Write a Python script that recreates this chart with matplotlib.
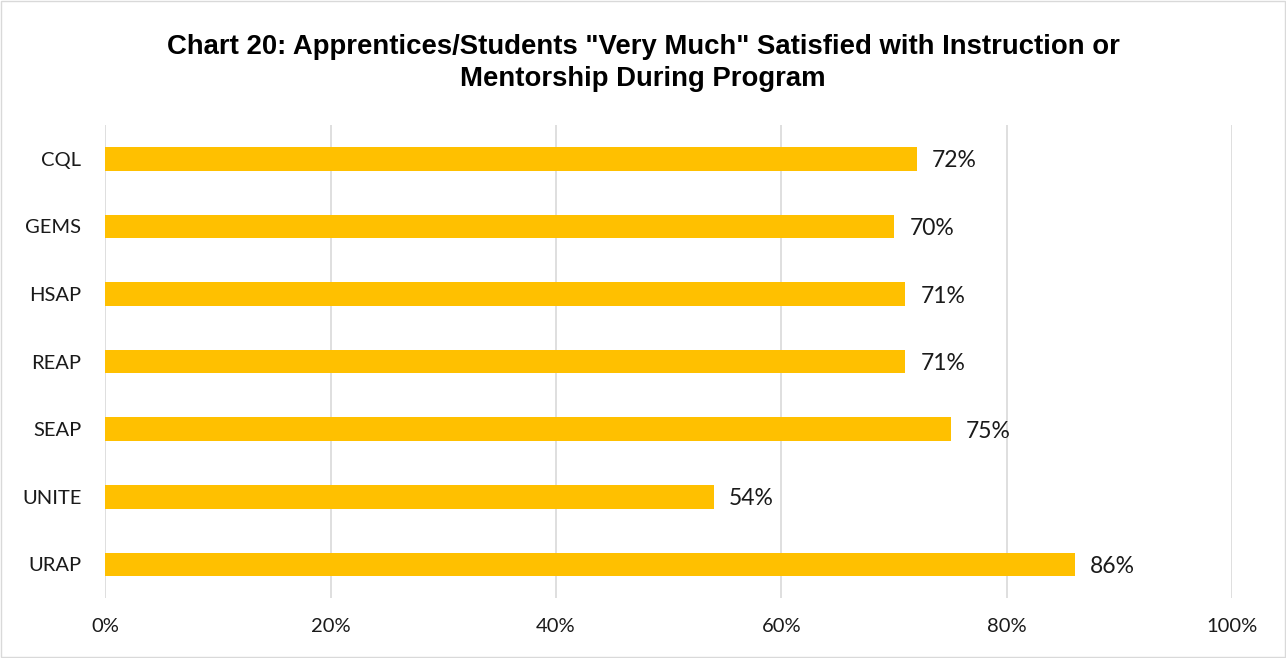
import matplotlib.pyplot as plt
from matplotlib.patches import Rectangle

programs = ['CQL', 'GEMS', 'HSAP', 'REAP', 'SEAP', 'UNITE', 'URAP']
values = [72, 70, 71, 71, 75, 54, 86]
xticks = [0, 20, 40, 60, 80, 100]

fig = plt.figure(figsize=(12.86, 6.58), dpi=100)
ax = fig.add_axes([0.0817, 0.091, 0.8766, 0.719])

ypos = range(len(programs))
ax.barh(ypos, values, height=0.35, color='#FFC000', zorder=3)
for y, v in zip(ypos, values):
    ax.text(v + 1.35, y + 0.03, f'{v}%', va='center', ha='left', fontsize=16.5,
            family='Lato', color='#1a1a1a')

ax.set_xlim(0, 100)
ax.set_ylim(6.5, -0.5)
ax.set_yticks(list(ypos))
ax.set_yticklabels(programs, family='Lato', fontsize=14.5, color='#1a1a1a')
ax.set_xticks(xticks)
ax.set_xticklabels([f'{t}%' for t in xticks], family='Lato', fontsize=14.5, color='#1a1a1a')
ax.tick_params(length=0, pad=17)
ax.tick_params(axis='x', pad=14)
ax.grid(axis='x', color='#d9d9d9', linewidth=1.2, zorder=0)
for s in ax.spines.values():
    s.set_visible(False)

fig.text(0.5, 0.904, 'Chart 20: Apprentices/Students "Very Much" Satisfied with Instruction or\nMentorship During Program',
         ha='center', va='center', fontsize=19.8, fontweight='bold',
         family='Liberation Sans', linespacing=1.3)

fig.patches.append(Rectangle((0.001, 0.001), 0.998, 0.998, transform=fig.transFigure,
                             fill=False, edgecolor='#d9d9d9', linewidth=1))

fig.savefig('out.png', dpi=100)
